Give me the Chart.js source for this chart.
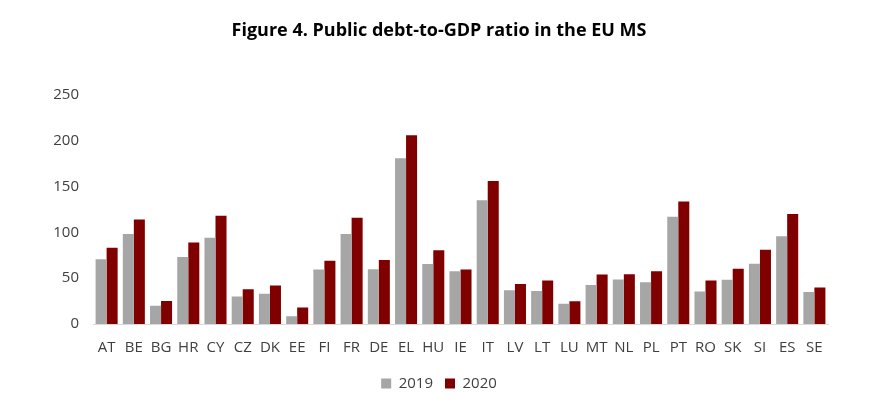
<!DOCTYPE html>
<html>
<head>
<meta charset="utf-8">
<script src="https://cdn.jsdelivr.net/npm/chart.js@4/dist/chart.umd.min.js"></script>
<style>
  html, body { margin: 0; padding: 0; background: #fff; }
</style>
</head>
<body>
<canvas id="chart" width="869" height="408"></canvas>
<script>
const countries = ["AT","BE","BG","HR","CY","CZ","DK","EE","FI","FR","DE","EL","HU","IE","IT","LV","LT","LU","MT","NL","PL","PT","RO","SK","SI","ES","SE"];
const debt2019 = [70.5, 98, 20, 73, 94, 30, 33, 8.4, 59.5, 98, 59.7, 180.5, 65.5, 57.4, 134.8, 36.9, 35.9, 22, 42.6, 48.6, 45.6, 116.8, 35.3, 48.2, 65.6, 95.5, 35];
const debt2020 = [83, 114, 25, 88.7, 118, 38, 42, 18, 69, 115.7, 69.8, 205.6, 80.4, 59.5, 155.8, 43.5, 47.3, 24.8, 54, 54.3, 57.5, 133.6, 47.3, 60.3, 80.8, 120, 39.9];
const yTicks = [0, 50, 100, 150, 200, 250];

const ctx = document.getElementById("chart").getContext("2d");
new Chart(ctx, {
  type: "bar",
  data: {
    labels: countries,
    datasets: [
      { label: "2019", data: debt2019, backgroundColor: "#a6a6a6" },
      { label: "2020", data: debt2020, backgroundColor: "#800000" }
    ]
  },
  options: {
    responsive: false,
    animation: false,
    layout: { padding: { left: 50, right: 41, top: 8, bottom: 7 } },
    datasets: { bar: { categoryPercentage: 0.81, barPercentage: 1.0 } },
    plugins: {
      title: {
        display: true,
        text: "Figure 4. Public debt-to-GDP ratio in the EU MS",
        color: "#000",
        font: { family: "Open Sans", size: 18, weight: "bold" },
        padding: { top: 12, bottom: 53 }
      },
      legend: {
        position: "bottom",
        labels: {
          color: "#404040",
          font: { family: "Open Sans", size: 15 },
          boxWidth: 10,
          boxHeight: 10,
          padding: 12
        }
      },
      tooltip: { enabled: false }
    },
    scales: {
      x: {
        grid: { display: false },
        border: { display: true, color: "#d9d9d9", width: 1 },
        ticks: { color: "#404040", font: { family: "Open Sans", size: 15 }, padding: 7, maxRotation: 0, autoSkip: false }
      },
      y: {
        min: 0,
        max: 250,
        afterBuildTicks: (axis) => { axis.ticks = yTicks.map(v => ({ value: v })); },
        afterFit: (axis) => { axis.width = 43; },
        grid: { display: false, drawTicks: false },
        border: { display: false },
        ticks: { color: "#404040", font: { family: "Open Sans", size: 15 }, padding: 14 }
      }
    }
  }
});
</script>
</body>
</html>
